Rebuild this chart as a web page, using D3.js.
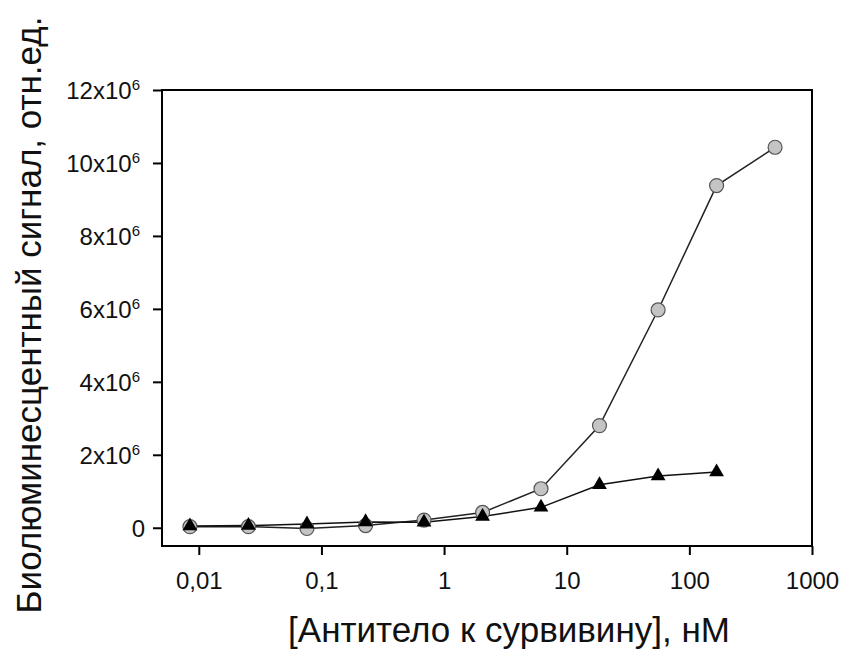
<!DOCTYPE html>
<html>
<head>
<meta charset="utf-8">
<script src="https://cdn.jsdelivr.net/npm/d3@7"></script>
<style>
  html, body { margin: 0; padding: 0; background: #fff; }
  svg { display: block; font-family: "Liberation Sans", Arial, sans-serif; }
</style>
</head>
<body>
<svg id="chart" width="842" height="651"></svg>
<script>
// Antibody concentration, nM (threefold dilution series)
const concentrations = [0.00847, 0.0254, 0.0762, 0.229, 0.686, 2.06, 6.17, 18.5, 55.6, 166.7, 500];
// Bioluminescent signal, relative units
const signalCircles   = [0.03e6, 0.03e6, -0.02e6, 0.06e6, 0.21e6, 0.42e6, 1.07e6, 2.80e6, 5.97e6, 9.38e6, 10.43e6];
const signalTriangles = [0.05e6, 0.06e6, 0.10e6, 0.16e6, 0.15e6, 0.31e6, 0.56e6, 1.18e6, 1.42e6, 1.53e6];

const xTickValues = [0.01, 0.1, 1, 10, 100, 1000];
const xTickLabels = ["0,01", "0,1", "1", "10", "100", "1000"];
const yTickValues = [0, 2e6, 4e6, 6e6, 8e6, 10e6, 12e6];
const yTickMantissas = ["0", "2", "4", "6", "8", "10", "12"];

const xTitle = "[Антитело к сурвивину], нМ";
const yTitle = "Биолюминесцентный сигнал, отн.ед.";

const svg = d3.select("#chart");
const plot = { left: 162, right: 812, top: 90, bottom: 546 };
const tickFont = 24;

const x = d3.scaleLog().domain([Math.pow(10, -2.3), 1000]).range([plot.left, plot.right]);
const y = d3.scaleLinear().domain([-0.5e6, 12e6]).range([plot.bottom, plot.top]);

// Frame
svg.append("rect")
  .attr("x", plot.left).attr("y", plot.top)
  .attr("width", plot.right - plot.left).attr("height", plot.bottom - plot.top)
  .attr("fill", "none").attr("stroke", "#000").attr("stroke-width", 2);

// X axis
const xAxis = d3.axisBottom(x)
  .tickValues(xTickValues)
  .tickSize(9)
  .tickPadding(17)
  .tickFormat((d, i) => xTickLabels[i]);
const gx = svg.append("g").attr("transform", `translate(0,${plot.bottom})`).call(xAxis);
gx.select(".domain").remove();
gx.selectAll(".tick line").attr("stroke", "#000").attr("stroke-width", 2);
gx.selectAll(".tick text").attr("font-size", tickFont).attr("fill", "#111")
  .attr("font-family", "Liberation Sans, Arial, sans-serif");

// Y axis with ×10^6 labels
const yAxis = d3.axisLeft(y)
  .tickValues(yTickValues)
  .tickSize(9)
  .tickPadding(13)
  .tickFormat(() => "");
const gy = svg.append("g").attr("transform", `translate(${plot.left},0)`).call(yAxis);
gy.select(".domain").remove();
gy.selectAll(".tick line").attr("stroke", "#000").attr("stroke-width", 2);
gy.selectAll(".tick text").each(function (d, i) {
  const t = d3.select(this)
    .attr("font-size", tickFont).attr("fill", "#111")
    .attr("font-family", "Liberation Sans, Arial, sans-serif")
    .attr("dy", "0.36em");
  if (d === 0) {
    t.attr("x", -17).text(yTickMantissas[i]);
  } else {
    t.append("tspan").text(yTickMantissas[i] + "x10");
    t.append("tspan").attr("font-size", 15).attr("dy", "-0.62em").text("6");
  }
});

// Connecting lines
const line = d3.line().x(d => x(d[0])).y(d => y(d[1]));
const circlePts = concentrations.map((c, i) => [c, signalCircles[i]]);
const trianglePts = concentrations.slice(0, signalTriangles.length).map((c, i) => [c, signalTriangles[i]]);

svg.append("path").datum(circlePts).attr("d", line)
  .attr("fill", "none").attr("stroke", "#222").attr("stroke-width", 1.5);
svg.append("path").datum(trianglePts).attr("d", line)
  .attr("fill", "none").attr("stroke", "#111").attr("stroke-width", 1.5);

// Circle markers
svg.append("g").selectAll("circle").data(circlePts).join("circle")
  .attr("cx", d => x(d[0])).attr("cy", d => y(d[1])).attr("r", 7)
  .attr("fill", "#c4c4c4").attr("stroke", "#555").attr("stroke-width", 1.2);

// Triangle markers
const tri = d3.symbol().type(d3.symbolTriangle).size(95);
svg.append("g").selectAll("path").data(trianglePts).join("path")
  .attr("d", tri)
  .attr("transform", d => `translate(${x(d[0])},${y(d[1])})`)
  .attr("fill", "#000");

// Axis titles
svg.append("text")
  .attr("x", (plot.left + plot.right) / 2 + 22).attr("y", 642)
  .attr("text-anchor", "middle").attr("font-size", 35).attr("fill", "#111")
  .text(xTitle);

svg.append("text")
  .attr("transform", "translate(41,315) rotate(-90)")
  .attr("text-anchor", "middle").attr("font-size", 35).attr("fill", "#111")
  .text(yTitle);
</script>
</body>
</html>
